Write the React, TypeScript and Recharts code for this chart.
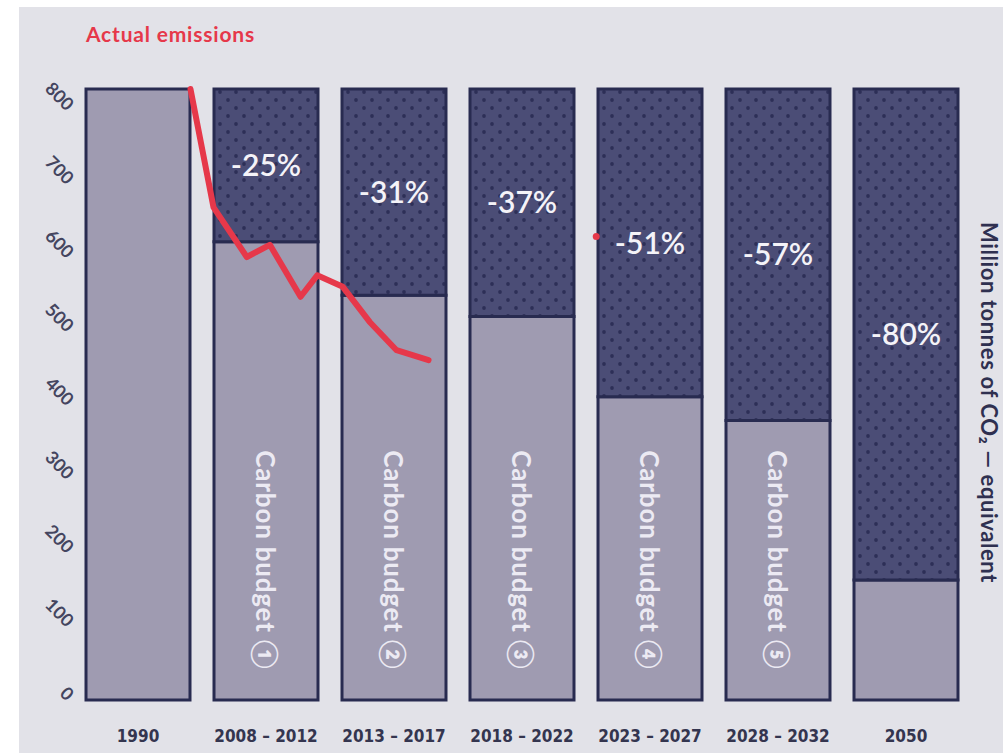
import { Bar, ComposedChart, LabelList, Line, Scatter, XAxis, YAxis } from 'recharts';

// budget periods (x categories)
const periods = ['1990', '2008 – 2012', '2013 – 2017', '2018 – 2022', '2023 – 2027', '2028 – 2032', '2050'];
// allowed emissions per period (MtCO2e)
const budgetValues = [800, 600, 530, 502, 397, 366, 157];
// 1990 baseline the dotted cap reaches up to
const baselineValues = [800, 800, 800, 800, 800, 800, 800];
const reductionLabels = ['', '-25%', '-31%', '-37%', '-51%', '-57%', '-80%'];
const budgetNames = ['', 'Carbon budget ①', 'Carbon budget ②', 'Carbon budget ③', 'Carbon budget ④', 'Carbon budget ⑤', ''];
const yTicks = [0, 100, 200, 300, 400, 500, 600, 700, 800];

// actual emissions line: position in bar slots (0 = 1990 bar centre) and value
const emissionPos = [0.41, 0.59, 0.85, 1.03, 1.27, 1.4, 1.6, 1.81, 2.02, 2.27];
const emissionValues = [800, 645, 580, 596, 528, 556, 541, 495, 458, 445];
// stray red mark at the edge of the 4th bar
const strayPos = [3.58];
const strayValues = [607];

const barData = periods.map((period, i) => ({
  period,
  budget: budgetValues[i],
  cut: baselineValues[i] - budgetValues[i] > 0 ? baselineValues[i] - budgetValues[i] : null,
  pct: reductionLabels[i],
  name: budgetNames[i],
}));
const emissionData = emissionPos.map((pos, i) => ({ pos, value: emissionValues[i] }));
const strayData = strayPos.map((pos, i) => ({ pos, value: strayValues[i] }));

const INK = '#282b50';
const LIGHT = '#9f9bb1';
const DARK = '#4b4d76';
const RED = '#e6384a';
const FONT = "Lato, 'Noto Sans', sans-serif";

// the printed tick labels sit slightly tighter than the bars' scale
function YTick({ x, y, payload }: any) {
  const ax = x + 5;
  const ay = y + 4;
  return (
    <text
      x={ax}
      y={ay}
      transform={`rotate(45, ${ax}, ${ay})`}
      textAnchor="end"
      dominantBaseline="central"
      fontFamily={FONT}
      fontWeight={700}
      fontSize={18}
      fill="#44455f"
    >
      {payload.value}
    </text>
  );
}

function XTick({ x, y, payload }: any) {
  return (
    <text
      x={x}
      y={y + 34}
      textAnchor="middle"
      fontFamily="'DejaVu Sans Condensed', 'Liberation Sans Narrow', sans-serif"
      fontWeight={700}
      fontSize={17}
      fill="#34354f"
    >
      {payload.value}
    </text>
  );
}

function BudgetName(props: any) {
  const { x, y, width, height, value } = props;
  if (!value) return null;
  const cx = x + width / 2;
  const cy = y + height - 140;
  return (
    <text
      x={cx}
      y={cy}
      transform={`rotate(90, ${cx}, ${cy})`}
      textAnchor="middle"
      dominantBaseline="central"
      fontFamily={FONT}
      fontWeight={700}
      fontSize={26}
      letterSpacing={0.8}
      fill="#eceaf3"
    >
      {value}
    </text>
  );
}

export default function App() {
  return (
    <div style={{ position: 'absolute', left: 0, top: 0, width: 1003, height: 753, background: '#fff' }}>
      <div style={{ position: 'absolute', left: 19, top: 7, right: 0, bottom: 0, background: '#e2e2e8' }} />
      <div
        style={{
          position: 'absolute',
          left: 86,
          top: 21,
          color: RED,
          fontFamily: FONT,
          fontWeight: 700,
          fontSize: 21,
          letterSpacing: 0.8,
        }}
      >
        Actual emissions
      </div>
      <div style={{ position: 'absolute', left: 0, top: 0 }}>
        <ComposedChart width={1003} height={753} data={barData} margin={{ top: 89, right: 0, bottom: 13, left: 24 }}>
          <defs>
            <pattern id="dots" width="16" height="16" patternUnits="userSpaceOnUse">
              <rect width="16" height="16" fill={DARK} />
              <circle cx="4" cy="4" r="1.9" fill="#2d2f57" />
              <circle cx="12" cy="12" r="1.9" fill="#2d2f57" />
            </pattern>
          </defs>
          <XAxis
            xAxisId="cat"
            dataKey="period"
            tick={<XTick />}
            tickLine={false}
            axisLine={false}
            height={40}
            interval={0}
          />
          <XAxis xAxisId="line" dataKey="pos" type="number" domain={[-0.5, 6.5]} allowDataOverflow hide />
          <YAxis yAxisId="left" domain={[0, 800]} hide />
          <YAxis
            yAxisId="labels"
            domain={[-9.5, 819]}
            allowDataOverflow
            ticks={yTicks}
            tick={<YTick />}
            tickLine={false}
            axisLine={false}
            width={50}
          />
          <YAxis
            yAxisId="right"
            orientation="right"
            domain={[0, 800]}
            tick={false}
            tickLine={false}
            axisLine={false}
            width={33}
            label={{
              value: 'Million tonnes of CO₂ — equivalent',
              angle: 90,
              position: 'center',
              dx: 2,
              dy: 8,
              fill: '#2f3050',
              fontSize: 22,
              fontWeight: 700,
              letterSpacing: 0.6,
              fontFamily: FONT,
            }}
          />
          <Bar
            xAxisId="cat"
            yAxisId="left"
            dataKey="budget"
            stackId="b"
            barSize={104}
            fill={LIGHT}
            stroke={INK}
            strokeWidth={3}
            isAnimationActive={false}
          >
            <LabelList dataKey="name" content={<BudgetName />} />
          </Bar>
          <Bar
            xAxisId="cat"
            yAxisId="left"
            dataKey="cut"
            stackId="b"
            barSize={104}
            fill="url(#dots)"
            stroke={INK}
            strokeWidth={3}
            isAnimationActive={false}
          >
            <LabelList
              dataKey="pct"
              position="center"
              fill="#f4f3f8"
              fontSize={30}
              fontWeight={600}
              fontFamily={FONT}
            />
          </Bar>
          <Line
            xAxisId="line"
            yAxisId="left"
            data={emissionData}
            dataKey="value"
            type="linear"
            stroke={RED}
            strokeWidth={6}
            strokeLinejoin="round"
            strokeLinecap="round"
            dot={false}
            isAnimationActive={false}
          />
          <Scatter
            xAxisId="line"
            yAxisId="left"
            data={strayData}
            dataKey="value"
            fill={RED}
            shape={(p: any) => <circle cx={p.cx} cy={p.cy} r={3.5} fill={RED} />}
            isAnimationActive={false}
          />
        </ComposedChart>
      </div>
    </div>
  );
}
